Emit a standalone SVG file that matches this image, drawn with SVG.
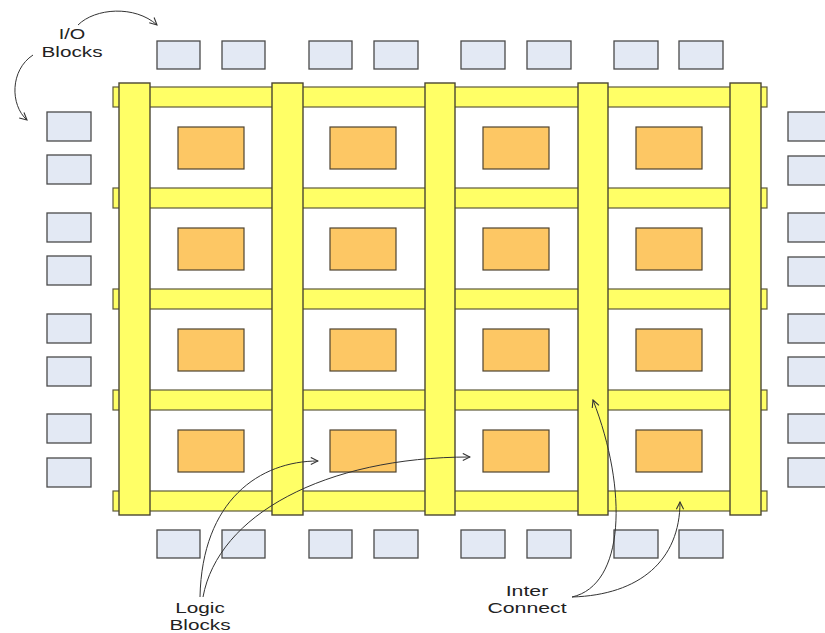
<svg xmlns="http://www.w3.org/2000/svg" width="825" height="633" viewBox="0 0 825 633">
<style>
.hb{fill:#ffff66;stroke:#5e5a3a;stroke-width:1.2}
.vb{fill:#ffff66;stroke:#4a4632;stroke-width:1.4}
.lb{fill:#fdc764;stroke:#4f4330;stroke-width:1.2}
.io{fill:#e3e9f4;stroke:#4a4a4a;stroke-width:1.3}
.lbl{font-family:"Liberation Sans",Arial,sans-serif;font-size:14px;fill:#222;text-anchor:middle}
.conn{fill:none;stroke:#333;stroke-width:1;marker-end:url(#ah)}
</style>
<defs>
<marker id="ah" viewBox="0 0 10 10" refX="9" refY="5" markerWidth="9" markerHeight="9" markerUnits="userSpaceOnUse" orient="auto">
<polyline points="1,1 9,5 1,9" fill="none" stroke="#333" stroke-width="1.2"/>
</marker>
</defs>
<rect width="825" height="633" fill="#fff"/>
<g id="interconnect">
<rect class="hb" x="113" y="87" width="654" height="20"/>
<rect class="hb" x="113" y="188" width="654" height="20"/>
<rect class="hb" x="113" y="289" width="654" height="20"/>
<rect class="hb" x="113" y="390" width="654" height="20"/>
<rect class="hb" x="113" y="491" width="654" height="20"/>
<rect class="vb" x="119" y="83" width="31" height="432"/>
<rect class="vb" x="272" y="83" width="31" height="432"/>
<rect class="vb" x="425" y="83" width="30" height="432"/>
<rect class="vb" x="578" y="83" width="30" height="432"/>
<rect class="vb" x="730" y="83" width="31" height="432"/>
</g>
<g id="logic-blocks">
<rect class="lb" x="178" y="127" width="66" height="42"/>
<rect class="lb" x="330" y="127" width="66" height="42"/>
<rect class="lb" x="483" y="127" width="66" height="42"/>
<rect class="lb" x="636" y="127" width="66" height="42"/>
<rect class="lb" x="178" y="228" width="66" height="42"/>
<rect class="lb" x="330" y="228" width="66" height="42"/>
<rect class="lb" x="483" y="228" width="66" height="42"/>
<rect class="lb" x="636" y="228" width="66" height="42"/>
<rect class="lb" x="178" y="329" width="66" height="42"/>
<rect class="lb" x="330" y="329" width="66" height="42"/>
<rect class="lb" x="483" y="329" width="66" height="42"/>
<rect class="lb" x="636" y="329" width="66" height="42"/>
<rect class="lb" x="178" y="430" width="66" height="42"/>
<rect class="lb" x="330" y="430" width="66" height="42"/>
<rect class="lb" x="483" y="430" width="66" height="42"/>
<rect class="lb" x="636" y="430" width="66" height="42"/>
</g>
<g id="io-top">
<rect class="io" x="157" y="41" width="43" height="28"/>
<rect class="io" x="222" y="41" width="43" height="28"/>
<rect class="io" x="309" y="41" width="43" height="28"/>
<rect class="io" x="374" y="41" width="44" height="28"/>
<rect class="io" x="461" y="41" width="44" height="28"/>
<rect class="io" x="527" y="41" width="44" height="28"/>
<rect class="io" x="614" y="41" width="44" height="28"/>
<rect class="io" x="679" y="41" width="44" height="28"/>
</g>
<g id="io-bottom">
<rect class="io" x="157" y="530" width="43" height="28"/>
<rect class="io" x="222" y="530" width="43" height="28"/>
<rect class="io" x="309" y="530" width="43" height="28"/>
<rect class="io" x="374" y="530" width="44" height="28"/>
<rect class="io" x="461" y="530" width="44" height="28"/>
<rect class="io" x="527" y="530" width="44" height="28"/>
<rect class="io" x="614" y="530" width="44" height="28"/>
<rect class="io" x="679" y="530" width="44" height="28"/>
</g>
<g id="io-left">
<rect class="io" x="47" y="112" width="44" height="29"/>
<rect class="io" x="47" y="155" width="44" height="29"/>
<rect class="io" x="47" y="213" width="44" height="29"/>
<rect class="io" x="47" y="256" width="44" height="29"/>
<rect class="io" x="47" y="314" width="44" height="29"/>
<rect class="io" x="47" y="357" width="44" height="29"/>
<rect class="io" x="47" y="414" width="44" height="29"/>
<rect class="io" x="47" y="458" width="44" height="29"/>
</g>
<g id="io-right">
<rect class="io" x="788" y="112" width="44" height="29"/>
<rect class="io" x="788" y="156" width="44" height="29"/>
<rect class="io" x="788" y="213" width="44" height="29"/>
<rect class="io" x="788" y="257" width="44" height="29"/>
<rect class="io" x="788" y="314" width="44" height="29"/>
<rect class="io" x="788" y="357" width="44" height="29"/>
<rect class="io" x="788" y="414" width="44" height="29"/>
<rect class="io" x="788" y="458" width="44" height="29"/>
</g>
<g id="connectors">
<path class="conn" d="M78,25 C95,8 135,5 157,25"/>
<path class="conn" d="M33,55 C10,70 10,105 27,120"/>
<path class="conn" d="M200,597 C202,500 260,461 318,461"/>
<path class="conn" d="M203,597 C218,515 325,457 470,457"/>
<path class="conn" d="M572,597 C625,585 628,490 593,400"/>
<path class="conn" d="M572,597 C640,595 680,560 680,502"/>
</g>
<g id="label-io">
<text class="lbl" transform="translate(72,39) scale(1.42,1)">I/O</text>
<text class="lbl" transform="translate(72,57) scale(1.48,1)">Blocks</text>
</g>
<g id="label-logic">
<text class="lbl" transform="translate(200,613) scale(1.48,1)">Logic</text>
<text class="lbl" transform="translate(200,630) scale(1.48,1)">Blocks</text>
</g>
<g id="label-interconnect">
<text class="lbl" transform="translate(527,596) scale(1.52,1)">Inter</text>
<text class="lbl" transform="translate(527,613) scale(1.52,1)">Connect</text>
</g>
</svg>
